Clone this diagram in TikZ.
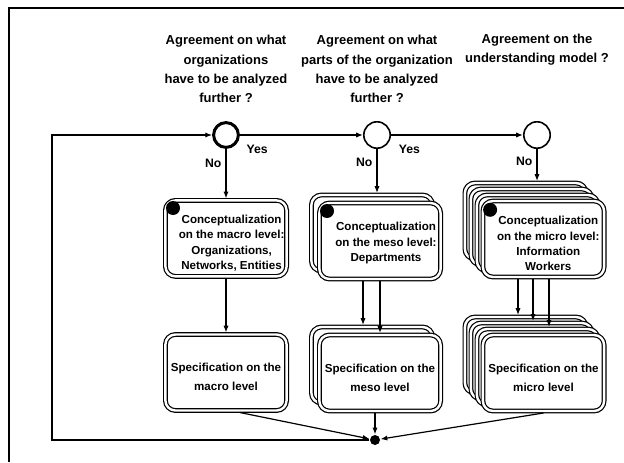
\documentclass[tikz,border=0pt]{standalone}
\usepackage{fontspec}
\setmainfont{Liberation Sans}
\usetikzlibrary{calc}
\usetikzlibrary{arrows.meta}

\begin{document}
\begin{tikzpicture}[line width=0.03cm]
\tikzset{>={Latex[length=0.17cm,width=0.13cm]}}
\tikzset{box/.style={draw,double,line width=0.03cm,double distance=0.06cm,rounded corners=0.25cm,fill=white,minimum width=3.03cm,minimum height=1.9cm,inner sep=0pt,outer sep=0.05cm}}
\tikzset{boxtext/.style={align=center,inner sep=0pt,font=\fontsize{8.25}{10.7}\selectfont\bfseries}}
\tikzset{spectext/.style={boxtext,font=\fontsize{8.25}{13.5}\selectfont\bfseries}}
\tikzset{ask/.style={align=center,inner sep=0pt,font=\fontsize{9.25}{13.7}\selectfont\bfseries}}
\tikzset{choice/.style={draw,circle,minimum size=0.66cm,inner sep=0pt,line width=0.04cm,fill=white}}
\tikzset{lbl/.style={inner sep=0pt,font=\fontsize{8.7}{10}\selectfont\bfseries}}
\tikzset{ball/.style={circle,fill=black,inner sep=0pt,minimum size=0.35cm}}
\useasboundingbox (0,0) rectangle (15.6,-11.55);
\draw[line width=0.0625cm] (0.225,-11.55) -- (0.225,-0.2) -- (15.6,-0.2);

\node (t1) at (5.65,-1.725) [ask] {Agreement on what\\organizations\\have to be analyzed\\further ?};
\node (t2) at (9.425,-1.725) [ask] {Agreement on what\\parts of the organization\\have to be analyzed\\further ?};
\node (t3) at (13.425,-1.25) [ask] {Agreement on the\\understanding model ?};

\node (q1) at (5.65,-3.375) [choice,line width=0.075cm,minimum size=0.62cm] {};
\node (q2) at (9.425,-3.375) [choice] {};
\node (q3) at (13.425,-3.375) [choice] {};

% conceptualization boxes
\node (c1) at (5.65,-5.96) [box] {};
\node (c2b) at (9.3,-5.825) [box] {};
\node (c2) at (9.5,-6.025) [box] {};
\node (c3a) at (13.1375,-5.525) [box] {};
\node (c3b) at (13.2875,-5.675) [box] {};
\node (c3c) at (13.4375,-5.825) [box] {};
\node (c3) at (13.5875,-5.975) [box] {};
\node (c1t) at ($(c1)+(0.14,-0.12)$) [boxtext] {Conceptualization\\on the macro level:\\Organizations,\\Networks, Entities};
\node (c2t) at ($(c2)+(0.15,-0.05)$) [boxtext] {Conceptualization\\on the meso level:\\Departments};
\node (c3t) at ($(c3)+(0.12,-0.11)$) [boxtext] {Conceptualization\\on the micro level:\\Information\\Workers};

\node (d1) at ($(c1.north west)+(0.24,-0.24)$) [ball] {};
\node (d2) at ($(c2.north west)+(0.24,-0.25)$) [ball] {};
\node (d3) at ($(c3.north west)+(0.23,-0.27)$) [ball] {};

% specification boxes
\node (s1) at (5.65,-9.3125) [box] {};
\node (s2b) at (9.3,-9.125) [box] {};
\node (s2) at (9.5,-9.325) [box] {};
\node (s3a) at (13.1375,-8.875) [box] {};
\node (s3b) at (13.2875,-9.025) [box] {};
\node (s3c) at (13.4375,-9.175) [box] {};
\node (s3) at (13.5875,-9.325) [box] {};
\node (s1t) at ($(s1)+(0,-0.11)$) [spectext] {Specification on the\\macro level};
\node (s2t) at ($(s2)+(0,-0.11)$) [spectext] {Specification on the\\meso level};
\node (s3t) at ($(s3)+(0,-0.11)$) [spectext] {Specification on the\\micro level};

\node (j) at (9.375,-11.0) [circle,fill=black,inner sep=0pt,minimum size=0.25cm] {};
\coordinate (lc) at (1.3,-3.375);

\path
(q1) edge [->] node[lbl,pos=0.14,below=0.23cm] (yes1) {Yes} (q2)
(q2) edge [->] node[lbl,pos=0.14,below=0.23cm] (yes2) {Yes} (q3)
(q1) edge [->] node[lbl,pos=0.3,left=0.1cm] (no1) {No} (c1)
(q2) edge [->] node[lbl,pos=0.3,left=0.1cm] (no2) {No} (q2 |- c2b.north)
(q3) edge [->] node[lbl,pos=0.4,left=0.1cm] (no3) {No} (q3 |- c3a.north);

\path
(c1) edge [->] (s1)
($(c2.south)+(-0.425,0)$) edge [->] ($(c2.south |- s2b.north)+(-0.425,0)$)
(c2) edge [->] (s2)
($(c3.south)+(-0.6375,0)$) edge [->] ($(c3.south |- s3a.north)+(-0.6375,0)$)
($(c3.south)+(-0.2625,0)$) edge [->] ($(c3.south |- s3b.north)+(-0.2625,0)$)
($(c3.south)+(0.1375,0)$) edge [->] ($(c3.south |- s3c.north)+(0.1375,0)$);

\path
(s1.-71) edge [->] (j)
(s2.south -| j) edge [->] (j)
(s3.south) edge [->] (j);
\draw[->] (j) -| (lc) -- (q1);
\end{tikzpicture}
\end{document}
